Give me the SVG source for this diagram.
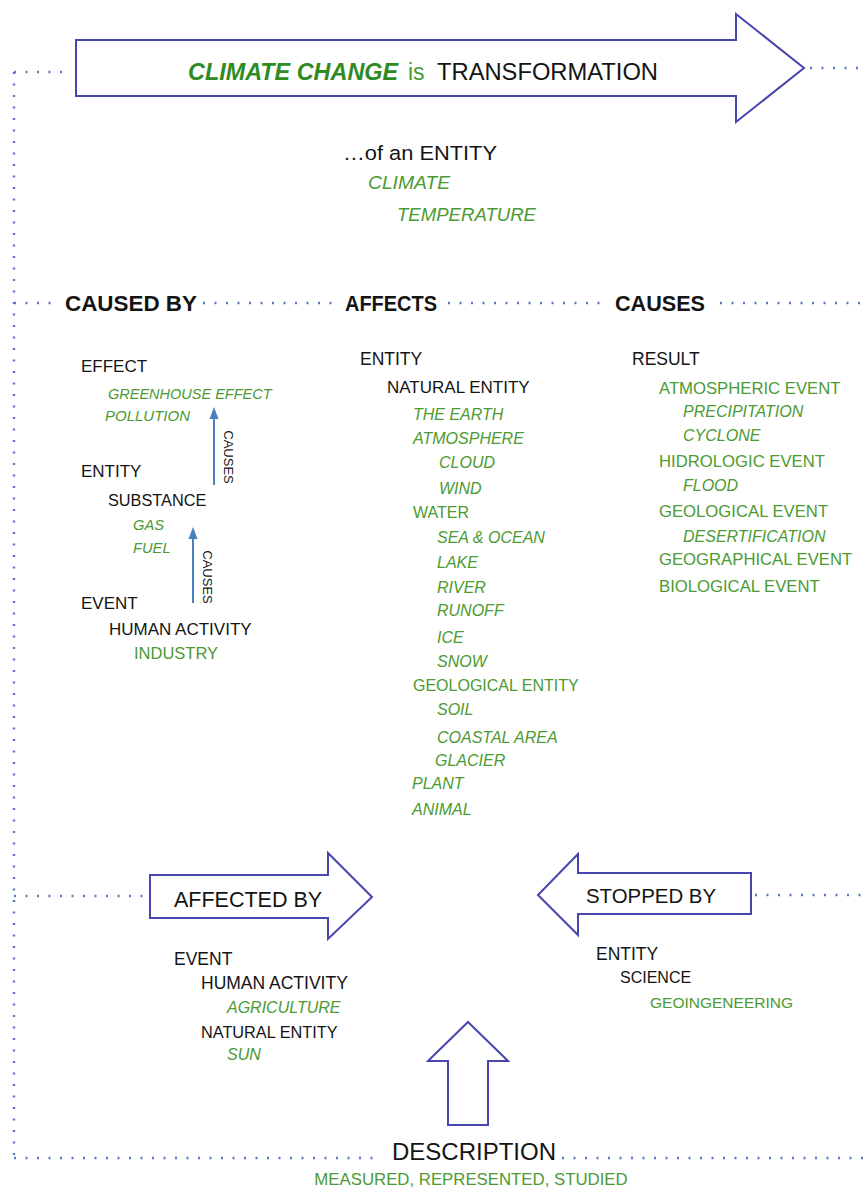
<svg xmlns="http://www.w3.org/2000/svg" width="863" height="1189" viewBox="0 0 863 1189">
  <style>
    text { font-family: "Liberation Sans", Arial, sans-serif; fill: #141414; }
    .g { fill: #4b9a32; }
    .i { font-style: italic; }
    .b { font-weight: bold; }
    .h { font-size: 22px; font-weight: bold; }
    .s17 { font-size: 17px; }
    .s16 { font-size: 16px; }
    .lbl { font-size: 13px; }
    .dots { fill: none; stroke: #5a78c8; stroke-width: 2.4; stroke-dasharray: 2 9.5; }
    .big { fill: #ffffff; stroke: #4646ae; stroke-width: 2; stroke-linejoin: miter; }
    .cause { stroke: #4a80c0; stroke-width: 2; fill: none; }
    .causehead { fill: #4a80c0; }
  </style>

  <!-- dotted frame and row guides -->
  <g id="connectors">
    <path class="dots" d="M14,72 V1158"/>
    <path class="dots" d="M14,72 H70"/>
    <path class="dots" d="M810,68 H863"/>
    <path class="dots" d="M14,303 H57 M203,303 H333 M448,303 H605 M720,303 H863"/>
    <path class="dots" d="M14,896 H148"/>
    <path class="dots" d="M755,895 H863"/>
    <path class="dots" d="M14,1158 H382 M562,1158 H863"/>
    <!-- causal arrows in the left column -->
    <path class="cause" d="M214,485 V418"/>
    <polygon class="causehead" points="214,407 209.5,419 218.5,419"/>
    <path class="cause" d="M193,603 V538"/>
    <polygon class="causehead" points="193,527 188.5,539 197.5,539"/>
    <text class="lbl" text-anchor="middle" transform="translate(224,457) rotate(90)">CAUSES</text>
    <text class="lbl" text-anchor="middle" transform="translate(203,577) rotate(90)">CAUSES</text>
  </g>

  <!-- title arrow -->
  <g id="title">
    <polygon class="big" points="76,40 736,40 736,14 804,68 736,122 736,96 76,96"/>
    <text x="188" y="80" style="font-size:23.4px; font-weight:bold; font-style:italic; fill:#2f8a1f">CLIMATE CHANGE</text>
    <text class="g" x="408" y="80" style="font-size:23px">is</text>
    <text x="437" y="80" style="font-size:23.5px" textLength="221" lengthAdjust="spacingAndGlyphs">TRANSFORMATION</text>
  </g>

  <!-- entity being transformed -->
  <g id="entity">
    <text x="343" y="160" style="font-size:20.5px" textLength="154" lengthAdjust="spacingAndGlyphs">…of an ENTITY</text>
    <text class="g i" x="368" y="189" style="font-size:18px" textLength="82" lengthAdjust="spacingAndGlyphs">CLIMATE</text>
    <text class="g i" x="397" y="221" style="font-size:18px" textLength="139" lengthAdjust="spacingAndGlyphs">TEMPERATURE</text>
  </g>

  <!-- section headings -->
  <g id="headings">
    <text class="h" x="65" y="311" textLength="132" lengthAdjust="spacingAndGlyphs">CAUSED BY</text>
    <text class="h" x="345" y="311" textLength="92" lengthAdjust="spacingAndGlyphs">AFFECTS</text>
    <text class="h" x="615" y="311" textLength="90" lengthAdjust="spacingAndGlyphs">CAUSES</text>
  </g>

  <!-- caused by -->
  <g id="caused-by">
    <text class="s17" x="81" y="372">EFFECT</text>
    <text class="g i" x="108" y="399" style="font-size:14.5px">GREENHOUSE EFFECT</text>
    <text class="g i" x="105" y="421" style="font-size:15px">POLLUTION</text>
    <text class="s17" x="81" y="477">ENTITY</text>
    <text x="108" y="506" style="font-size:16.3px">SUBSTANCE</text>
    <text class="g i" x="133" y="530" style="font-size:14.7px">GAS</text>
    <text class="g i" x="133" y="553" style="font-size:14.7px">FUEL</text>
    <text class="s17" x="81" y="609">EVENT</text>
    <text class="s17" x="109" y="635">HUMAN ACTIVITY</text>
    <text class="g" x="134" y="659" style="font-size:16.5px">INDUSTRY</text>
  </g>

  <!-- affects -->
  <g id="affects">
    <text class="s17" x="360" y="365" style="font-size:17.5px">ENTITY</text>
    <text class="s17" x="387" y="393">NATURAL ENTITY</text>
    <text class="g i s16" x="413" y="420">THE EARTH</text>
    <text class="g i s16" x="413" y="444">ATMOSPHERE</text>
    <text class="g i s16" x="439" y="468">CLOUD</text>
    <text class="g i s16" x="439" y="494">WIND</text>
    <text class="g s16" x="413" y="518">WATER</text>
    <text class="g i s16" x="437" y="543">SEA &amp; OCEAN</text>
    <text class="g i s16" x="437" y="568">LAKE</text>
    <text class="g i s16" x="437" y="593">RIVER</text>
    <text class="g i s16" x="437" y="616">RUNOFF</text>
    <text class="g i s16" x="437" y="643">ICE</text>
    <text class="g i s16" x="437" y="667">SNOW</text>
    <text class="g s16" x="413" y="691">GEOLOGICAL ENTITY</text>
    <text class="g i s16" x="437" y="715">SOIL</text>
    <text class="g i s16" x="437" y="743">COASTAL AREA</text>
    <text class="g i s16" x="435" y="766">GLACIER</text>
    <text class="g i s16" x="412" y="789">PLANT</text>
    <text class="g i s16" x="412" y="815">ANIMAL</text>
  </g>

  <!-- causes -->
  <g id="causes">
    <text class="s17" x="632" y="365" style="font-size:17.5px">RESULT</text>
    <text class="g" x="659" y="394" style="font-size:16.7px">ATMOSPHERIC EVENT</text>
    <text class="g i s16" x="683" y="417">PRECIPITATION</text>
    <text class="g i s16" x="683" y="441">CYCLONE</text>
    <text class="g" x="659" y="467" style="font-size:16.7px">HIDROLOGIC EVENT</text>
    <text class="g i s16" x="683" y="491">FLOOD</text>
    <text class="g" x="659" y="517" style="font-size:16.7px">GEOLOGICAL EVENT</text>
    <text class="g i s16" x="683" y="542">DESERTIFICATION</text>
    <text class="g" x="659" y="565" style="font-size:16.7px">GEOGRAPHICAL EVENT</text>
    <text class="g" x="659" y="592" style="font-size:16.7px">BIOLOGICAL EVENT</text>
  </g>

  <!-- affected by -->
  <g id="affected-by">
    <polygon class="big" points="150,875 328,875 328,853 372,897 328,939 328,918 150,918"/>
    <text x="174" y="907" style="font-size:21.5px">AFFECTED BY</text>
    <text x="174" y="965" style="font-size:17.5px">EVENT</text>
    <text x="201" y="989" style="font-size:17.5px">HUMAN ACTIVITY</text>
    <text class="g i s16" x="227" y="1013">AGRICULTURE</text>
    <text x="201" y="1038" style="font-size:16.3px">NATURAL ENTITY</text>
    <text class="g i s16" x="227" y="1060">SUN</text>
  </g>

  <!-- stopped by -->
  <g id="stopped-by">
    <polygon class="big" points="538,895 578,854 578,873 751,873 751,914 578,914 578,935"/>
    <text x="586" y="903" style="font-size:21px" textLength="130" lengthAdjust="spacingAndGlyphs">STOPPED BY</text>
    <text x="596" y="960" style="font-size:17.5px">ENTITY</text>
    <text x="620" y="983" style="font-size:16px">SCIENCE</text>
    <text class="g" x="650" y="1008" style="font-size:15.5px">GEOINGENEERING</text>
  </g>

  <!-- description -->
  <g id="description">
    <polygon class="big" points="468,1022 508,1061 488,1061 488,1125 448,1125 448,1061 428,1061"/>
    <text x="392" y="1160" style="font-size:24px">DESCRIPTION</text>
    <text class="g" x="471" y="1185" text-anchor="middle" style="font-size:16.8px">MEASURED, REPRESENTED, STUDIED</text>
  </g>
</svg>
